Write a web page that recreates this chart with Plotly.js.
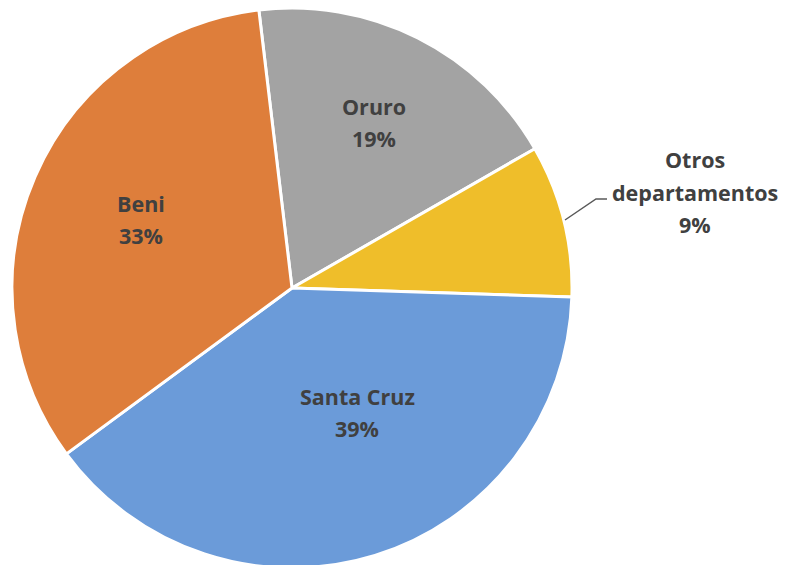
<!DOCTYPE html>
<html>
<head>
<meta charset="utf-8">
<script src="https://cdn.plot.ly/plotly-3.0.1.min.js"></script>
<style>
html,body{margin:0;padding:0;overflow:hidden;background:#fff;}
#chart{width:786px;height:575px;}
</style>
</head>
<body>
<div id="chart"></div>
<script>
const labels = ["Oruro", "Otros departamentos", "Santa Cruz", "Beni"];
const values = [18.6, 8.8, 39.4, 33.2];
const colors = ["#A3A3A3", "#EFBE2A", "#6B9BD9", "#DE7E3B"];
const labelLines = [["Oruro"], ["Otros", "departamentos"], ["Santa Cruz"], ["Beni"]];

const W = 786, H = 575;
const px = x => x / W;
const py = y => 1 - y / H;

const total = values.reduce((a, b) => a + b, 0);
// first-line centre of each label block (pixels)
const labelPos = [[374, 106], [695, 160], [357, 396], [141, 203]];
const lineGap = 32.5;

const annotations = [];
labels.forEach((l, i) => {
  const lines = labelLines[i].concat([Math.round(values[i] / total * 100) + "%"]);
  lines.forEach((t, k) => {
    annotations.push({
      x: px(labelPos[i][0]), y: py(labelPos[i][1] + k * lineGap),
      xref: "paper", yref: "paper",
      text: t, showarrow: false,
      xanchor: "center", yanchor: "middle",
      font: {family: "'Open Sans', sans-serif", size: 21.5, color: "#404040", weight: "bold"}
    });
  });
});

const data = [{
  type: "pie",
  labels: labels,
  values: values,
  sort: false,
  direction: "clockwise",
  rotation: -6.8,
  marker: {colors: colors, line: {color: "#ffffff", width: 3}},
  textinfo: "none",
  hoverinfo: "label+percent",
  domain: {x: [px(12), px(572)], y: [py(568), py(8)]},
  showlegend: false
}];

const layout = {
  width: W, height: H,
  margin: {l: 0, r: 0, t: 0, b: 0},
  paper_bgcolor: "#ffffff",
  showlegend: false,
  annotations: annotations,
  shapes: [{
    type: "path", xref: "paper", yref: "paper",
    path: `M ${px(565)} ${py(220)} L ${px(596)} ${py(199)} L ${px(607)} ${py(199)}`,
    line: {color: "#595959", width: 1.5}
  }]
};

Plotly.newPlot("chart", data, layout, {displayModeBar: false});
</script>
</body>
</html>
